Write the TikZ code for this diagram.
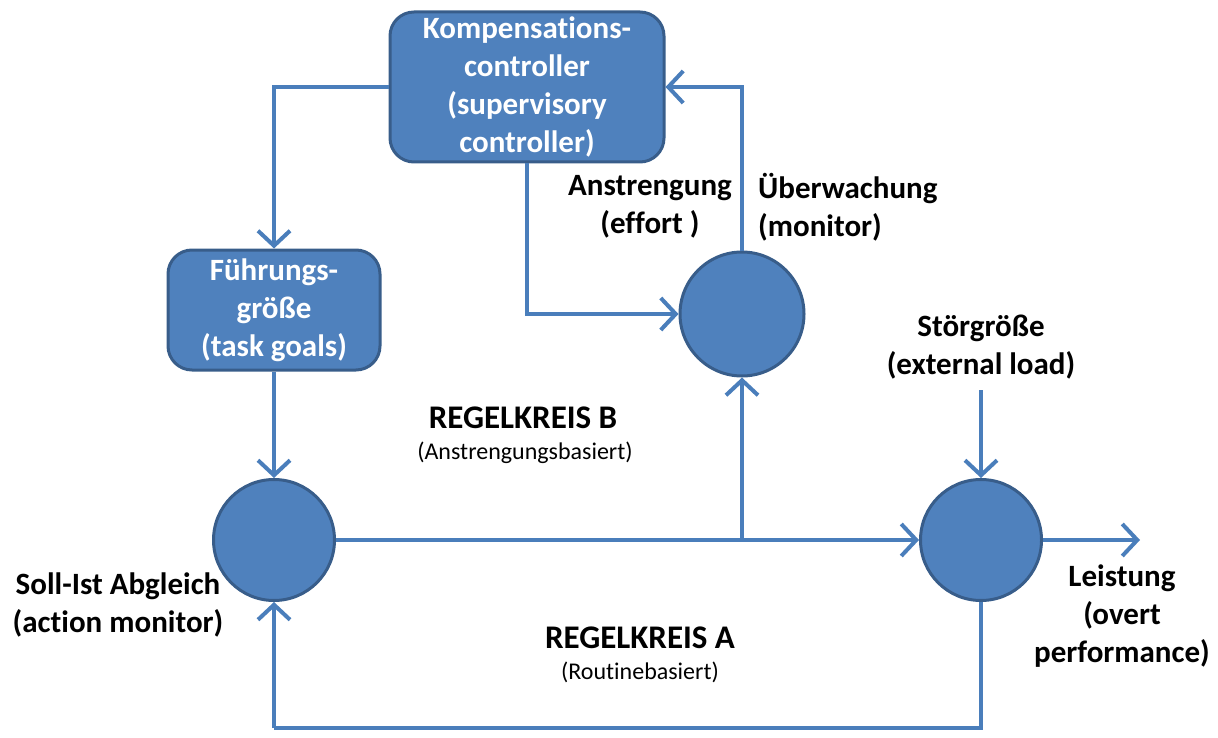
\documentclass[tikz,border=0pt]{standalone}
\usepackage{fontspec}
\setmainfont{Carlito}[Ligatures=NoCommon]
\usetikzlibrary{arrows.meta}
\definecolor{bfill}{HTML}{4F81BD}
\definecolor{bdraw}{HTML}{385D8A}
\definecolor{lcol}{HTML}{4A7EBB}
\tikzset{
  bluebox/.style={draw=bdraw, fill=bfill, line width=3pt, rounded corners=24pt, text=white, font=\fontsize{31}{38}\selectfont\bfseries, align=center, inner sep=0pt},
  bluecirc/.style={circle, draw=bdraw, fill=bfill, line width=3pt, minimum size=121pt, inner sep=0pt},
  conn/.style={draw=lcol, line width=4pt, -{Straight Barb[length=15pt,width=32pt]}},
  plain/.style={draw=lcol, line width=4pt},
  lbl/.style={font=\fontsize{31}{38}\selectfont\bfseries, align=center, inner sep=0pt},
  biglbl/.style={font=\fontsize{33}{38}\selectfont\bfseries, inner sep=0pt},
  smalllbl/.style={font=\fontsize{24}{28}\selectfont, inner sep=0pt}
}
\begin{document}
\begin{tikzpicture}[x=1pt,y=-1pt]
\useasboundingbox (0,0) rectangle (1218,738);
\node[bluebox, minimum width=274pt, minimum height=150pt] (komp) at (527,87) {Kompensations-\\controller\\(supervisory\\controller)};
\node[bluebox, minimum width=212pt, minimum height=120pt] (fuehr) at (274,310) {Führungs-\\größe\\(task goals)};
\node[bluecirc] (c1) at (274,540) {};
\node[bluecirc, minimum size=124pt] (c2) at (742,314) {};
\node[bluecirc] (c3) at (981,540) {};
\coordinate (j) at (742,540);
\coordinate (st) at (981,390);
\coordinate (out) at (1140,540);
\coordinate (b1) at (981,728);
\coordinate (b2) at (274,728);
\draw[conn] (komp.west) -| (fuehr.north);
\draw[conn] (fuehr.south) -- (c1.north);
\draw[conn] (komp.south) |- (c2.west);
\draw[conn] (c2.north) |- (komp.east);
\draw[conn] (c1.east) -- (c3.west);
\draw[conn] (j) -- (c2.south);
\draw[conn] (st) -- (c3.north);
\draw[conn] (c3.east) -- (out);
\draw[plain] (c3.south) -- (b1) -- (b2);
\draw[conn] (b2) -- (c1.south);
\node[lbl] (anst) at (650,207) {Anstrengung\\(effort )};
\node[lbl, align=left, anchor=west] (ueber) at (758,207) {Überwachung\\(monitor)};
\node[lbl] (stoer) at (981,347) {Störgröße\\(external load)};
\node[lbl] (soll) at (118,605) {Soll-Ist Abgleich\\(action monitor)};
\node[lbl] (leist) at (1122,616) {Leistung\\(overt\\performance)};
\node[biglbl] (rb) at (523,418) {REGELKREIS B};
\node[smalllbl] (rbs) at (525,453) {(Anstrengungsbasiert)};
\node[biglbl] (ra) at (640,638) {REGELKREIS A};
\node[smalllbl] (ras) at (640,672) {(Routinebasiert)};
\end{tikzpicture}
\end{document}
